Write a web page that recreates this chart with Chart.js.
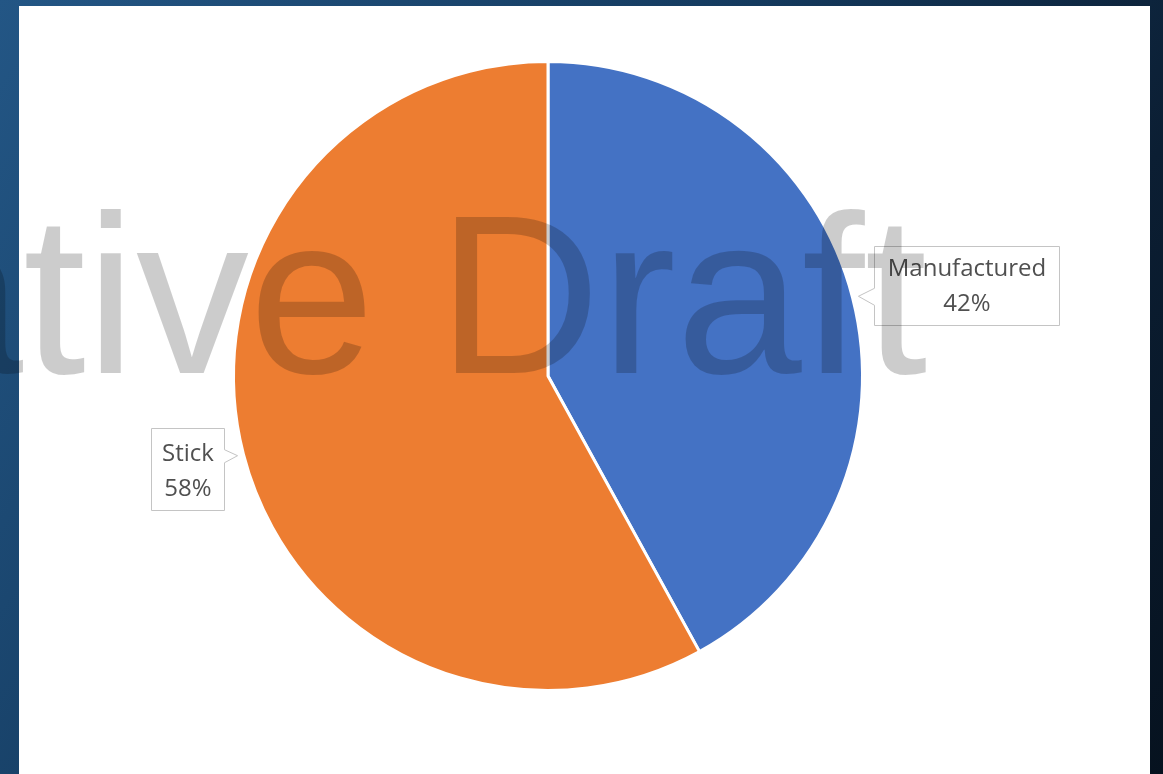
<!DOCTYPE html>
<html>
<head>
<meta charset="utf-8">
<script src="https://cdn.jsdelivr.net/npm/chart.js@4/dist/chart.umd.min.js"></script>
<style>
  html, body { margin: 0; padding: 0; background: #0b1b2c; }
  #wrap { width: 1163px; height: 774px; position: relative; }
</style>
</head>
<body>
<div id="wrap"><canvas id="pie" width="1163" height="774"></canvas></div>
<script>
// Share of homes by construction type
const categories = ['Manufactured', 'Stick'];
const shares = [42, 58];
const sliceColors = ['#4472C4', '#ED7D31'];
const watermarkText = 'Tentative Draft';

// Slide backdrop and white chart panel
const backdrop = {
  id: 'backdrop',
  beforeDraw(chart) {
    const ctx = chart.ctx;
    const w = chart.width, h = chart.height;
    ctx.save();
    const g = ctx.createLinearGradient(0, 0, w, h);
    g.addColorStop(0, '#235685');
    g.addColorStop(0.45, '#143a5e');
    g.addColorStop(0.75, '#0b1e33');
    g.addColorStop(1, '#06121f');
    ctx.fillStyle = g;
    ctx.fillRect(0, 0, w, h);
    ctx.fillStyle = '#ffffff';
    ctx.fillRect(19, 6, 1131, h - 6);
    ctx.restore();
  }
};

// Callout boxes with category name and percentage
const callouts = {
  id: 'callouts',
  afterDatasetsDraw(chart) {
    const ctx = chart.ctx;
    const meta = chart.getDatasetMeta(0);
    const total = shares.reduce((a, b) => a + b, 0);
    ctx.save();
    ctx.font = '24px "Open Sans"';
    ctx.textAlign = 'center';
    ctx.textBaseline = 'alphabetic';
    meta.data.forEach((arc, i) => {
      const mid = (arc.startAngle + arc.endAngle) / 2;
      const r = arc.outerRadius + 6;
      const tipX = arc.x + Math.cos(mid) * r;
      const tipY = arc.y + Math.sin(mid) * r;
      const lines = [categories[i], Math.round(shares[i] / total * 100) + '%'];
      const textW = Math.max(...lines.map(t => ctx.measureText(t).width));
      const right = Math.cos(mid) > 0;
      const boxW = Math.round(textW + (right ? 26 : 21));
      const boxH = right ? 79 : 82;
      let bx, by;
      if (right) {
        bx = tipX + 16;
        by = tipY - 50;
      } else {
        bx = tipX - 14 - boxW;
        by = tipY - 28;
      }
      bx = Math.round(bx) + 0.5;
      by = Math.round(by) + 0.5;
      const py = tipY; // pointer centre
      ctx.beginPath();
      if (right) {
        ctx.moveTo(bx, by);
        ctx.lineTo(bx + boxW, by);
        ctx.lineTo(bx + boxW, by + boxH);
        ctx.lineTo(bx, by + boxH);
        ctx.lineTo(bx, py + 9);
        ctx.lineTo(tipX, py);
        ctx.lineTo(bx, py - 8);
        ctx.closePath();
      } else {
        ctx.moveTo(bx, by);
        ctx.lineTo(bx + boxW, by);
        ctx.lineTo(bx + boxW, py - 6);
        ctx.lineTo(tipX, py);
        ctx.lineTo(bx + boxW, py + 7);
        ctx.lineTo(bx + boxW, by + boxH);
        ctx.lineTo(bx, by + boxH);
        ctx.closePath();
      }
      ctx.fillStyle = '#ffffff';
      ctx.fill();
      ctx.strokeStyle = '#c4c4c4';
      ctx.lineWidth = 1;
      ctx.stroke();
      ctx.fillStyle = '#505050';
      const cx = bx + boxW / 2;
      const b1 = right ? 29 : 32;
      ctx.fillText(lines[0], cx, by + b1);
      ctx.fillText(lines[1], cx, by + b1 + 35);
    });
    ctx.restore();
  }
};

// Large translucent watermark across the slide
const watermark = {
  id: 'watermark',
  afterDraw(chart) {
    const ctx = chart.ctx;
    ctx.save();
    ctx.font = '226px "Liberation Sans"';
    ctx.textBaseline = 'alphabetic';
    ctx.textAlign = 'left';
    const lead = ctx.measureText('Tenta').width;
    ctx.fillStyle = 'rgba(0,0,0,0.2)';
    ctx.fillText(watermarkText, 23 - lead, 373);
    ctx.restore();
  }
};

new Chart(document.getElementById('pie'), {
  type: 'pie',
  data: {
    labels: categories,
    datasets: [{
      data: shares,
      backgroundColor: sliceColors,
      borderColor: '#ffffff',
      borderWidth: 3,
      hoverOffset: 0
    }]
  },
  options: {
    responsive: false,
    animation: false,
    events: [],
    layout: { padding: { left: 100, right: 167, top: 60, bottom: 82 } },
    plugins: {
      legend: { display: false },
      tooltip: { enabled: false }
    }
  },
  plugins: [backdrop, callouts, watermark]
});
</script>
</body>
</html>
